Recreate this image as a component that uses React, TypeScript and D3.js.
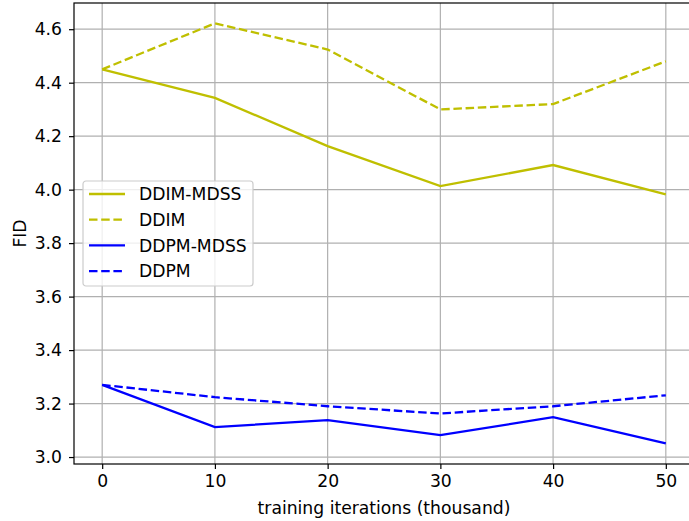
import React, { useEffect, useRef } from "react";
import * as d3 from "d3";

const iterations = [0, 10, 20, 30, 40, 50];
const ddimMdss = [4.45, 4.343, 4.163, 4.013, 4.092, 3.982];
const ddim = [4.45, 4.622, 4.524, 4.3, 4.32, 4.48];
const ddpmMdss = [3.27, 3.112, 3.138, 3.082, 3.149, 3.051];
const ddpm = [3.27, 3.224, 3.19, 3.163, 3.19, 3.231];
const xTicks = [0, 10, 20, 30, 40, 50];
const yTicks = [3.0, 3.2, 3.4, 3.6, 3.8, 4.0, 4.2, 4.4, 4.6];

const seriesList = [
    { name: "DDIM-MDSS", values: ddimMdss, color: "#bfbf00", dashed: false },
    { name: "DDIM", values: ddim, color: "#bfbf00", dashed: true },
    { name: "DDPM-MDSS", values: ddpmMdss, color: "#0000ff", dashed: false },
    { name: "DDPM", values: ddpm, color: "#0000ff", dashed: true },
];

const App = () => {
    const ref = useRef<SVGSVGElement>(null);

    useEffect(() => {
        const svg = d3.select(ref.current);
        svg.selectAll("*").remove();

        const width = 689;
        const height = 521;
        const margin = { top: 3, right: -5, bottom: 57, left: 74 };
        const font = "DejaVu Sans, sans-serif";
        const fs = 17.2;
        const lw = 2.3;
        const dash = "8.5,3.7";

        const x = d3
            .scaleLinear()
            .domain([-2.5, 52.5])
            .range([margin.left, width - margin.right]);
        const y = d3
            .scaleLinear()
            .domain([2.974, 4.698])
            .range([height - margin.bottom, margin.top]);

        svg.attr("width", width).attr("height", height);
        svg.append("rect").attr("width", width).attr("height", height).attr("fill", "white");

        // Grid
        const grid = svg.append("g").attr("stroke", "#b0b0b0").attr("stroke-width", 1.2);
        xTicks.forEach((t) => {
            grid.append("line")
                .attr("x1", x(t)).attr("x2", x(t))
                .attr("y1", margin.top).attr("y2", height - margin.bottom);
        });
        yTicks.forEach((t) => {
            grid.append("line")
                .attr("x1", margin.left).attr("x2", width - margin.right)
                .attr("y1", y(t)).attr("y2", y(t));
        });

        // Lines
        const line = d3
            .line<number>()
            .x((d, i) => x(iterations[i]))
            .y((d) => y(d));
        seriesList.forEach((s) => {
            svg.append("path")
                .datum(s.values)
                .attr("d", line)
                .attr("fill", "none")
                .attr("stroke", s.color)
                .attr("stroke-width", lw)
                .attr("stroke-dasharray", s.dashed ? dash : null);
        });

        // Spines
        svg.append("rect")
            .attr("x", margin.left).attr("y", margin.top)
            .attr("width", width - margin.right - margin.left)
            .attr("height", height - margin.bottom - margin.top)
            .attr("fill", "none").attr("stroke", "black").attr("stroke-width", 1.2);

        // X axis
        const xAxis = svg.append("g")
            .attr("transform", `translate(0,${height - margin.bottom})`)
            .call(d3.axisBottom(x).tickValues(xTicks).tickSize(5).tickPadding(6).tickFormat(d3.format("d")));
        // Y axis
        const yAxis = svg.append("g")
            .attr("transform", `translate(${margin.left},0)`)
            .call(d3.axisLeft(y).tickValues(yTicks).tickSize(5).tickPadding(7).tickFormat(d3.format(".1f")));
        [xAxis, yAxis].forEach((a) => {
            a.select(".domain").remove();
            a.selectAll("text").attr("font-family", font).attr("font-size", fs).attr("fill", "black");
            a.selectAll("line").attr("stroke", "black").attr("stroke-width", 1.2);
        });

        svg.append("text")
            .attr("x", 384)
            .attr("y", 514)
            .attr("text-anchor", "middle")
            .attr("font-family", font)
            .attr("font-size", fs)
            .text("training iterations (thousand)");
        svg.append("text")
            .attr("transform", `translate(26,${(margin.top + height - margin.bottom) / 2}) rotate(-90)`)
            .attr("text-anchor", "middle")
            .attr("font-family", font)
            .attr("font-size", fs)
            .text("FID");

        // Legend
        const lg = svg.append("g").attr("transform", "translate(83,181)");
        lg.append("rect")
            .attr("width", 170).attr("height", 105).attr("rx", 3)
            .attr("fill", "white").attr("fill-opacity", 0.8)
            .attr("stroke", "#cccccc").attr("stroke-width", 1.2);
        seriesList.forEach((s, i) => {
            const cy = 13 + i * 25.7;
            lg.append("line")
                .attr("x1", 6).attr("x2", 42).attr("y1", cy).attr("y2", cy)
                .attr("stroke", s.color).attr("stroke-width", lw)
                .attr("stroke-dasharray", s.dashed ? dash : null);
            lg.append("text")
                .attr("x", 56).attr("y", cy).attr("dy", "0.36em")
                .attr("font-family", font).attr("font-size", fs)
                .text(s.name);
        });
    }, []);

    return <svg ref={ref} style={{ display: "block", position: "absolute", left: 0, top: 0 }}></svg>;
};

export default App;
